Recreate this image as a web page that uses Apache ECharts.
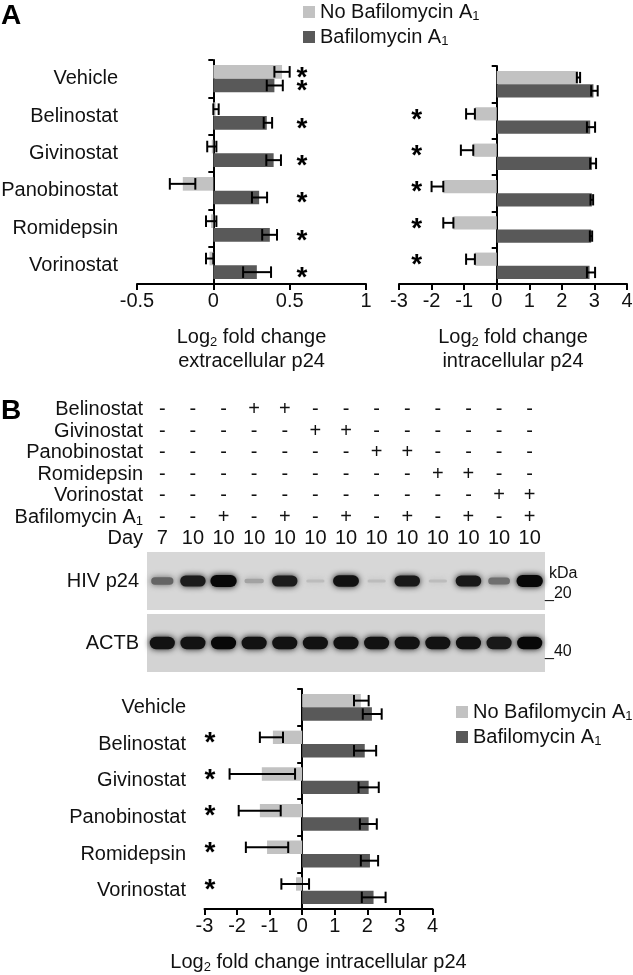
<!DOCTYPE html>
<html><head><meta charset="utf-8">
<script src="https://cdn.jsdelivr.net/npm/echarts@6/dist/echarts.min.js"></script>
<style>html,body{margin:0;padding:0;background:#fff}#c{width:633px;height:975px}</style>
</head><body><div id="c"></div>
<script>
// ---------- data ----------
const categories = ['Vehicle','Belinostat','Givinostat','Panobinostat','Romidepsin','Vorinostat'];
const seriesNames = ['No Bafilomycin A1','Bafilomycin A1'];

// Panel A, left: log2 fold change extracellular p24
const extraTicks = [-0.5, 0, 0.5, 1];
const extraNo    = [0.45, 0.015, -0.01, -0.20, -0.015, -0.025];
const extraNoLo  = [0.40, 0.0,  -0.04, -0.285, -0.048, -0.048];
const extraNoHi  = [0.50, 0.035, 0.02, -0.118, 0.02, 0.0];
const extraBaf   = [0.40, 0.35, 0.395, 0.30, 0.37, 0.285];
const extraBafLo = [0.35, 0.33, 0.347, 0.253, 0.32, 0.195];
const extraBafHi = [0.455, 0.385, 0.443, 0.352, 0.417, 0.378];
const extraSigNo  = [1,0,0,0,0,0];
const extraSigBaf = [1,1,1,1,1,1];
const extraStarX = 0.58;

// Panel A, right: log2 fold change intracellular p24
const intraTicks = [-3,-2,-1,0,1,2,3,4];
const intraANo    = [2.50, -0.67, -0.72, -1.64, -1.33, -0.67];
const intraANoLo  = [2.46, -0.94, -1.10, -2.00, -1.64, -0.94];
const intraANoHi  = [2.56, -0.67, -0.72, -1.64, -1.33, -0.67];
const intraABaf   = [2.97, 2.87, 2.92, 2.92, 2.90, 2.85];
const intraABafLo = [2.90, 2.77, 2.87, 2.88, 2.86, 2.77];
const intraABafHi = [3.10, 3.02, 3.05, 2.96, 2.93, 3.02];
const intraASigNo  = [0,1,1,1,1,1];
const intraASigBaf = [0,0,0,0,0,0];
const intraAStarX = -2.46;

// Panel B: log2 fold change intracellular p24
const intraBNo    = [1.80, -0.90, -1.24, -1.30, -1.08, -0.19];
const intraBNoLo  = [1.59, -1.30, -2.23, -1.95, -1.73, -0.64];
const intraBNoHi  = [2.04, -0.59, -0.22, -0.66, -0.43, 0.21];
const intraBBaf   = [2.14, 1.92, 2.04, 2.04, 2.08, 2.19];
const intraBBafLo = [1.86, 1.59, 1.73, 1.77, 1.80, 1.83];
const intraBBafHi = [2.44, 2.27, 2.35, 2.29, 2.33, 2.56];
const intraBSigNo  = [0,1,1,1,1,1];
const intraBSigBaf = [0,0,0,0,0,0];
const intraBStarX = -2.83;

// Panel B: treatment table & blot
const lanes = ['1','2','3','4','5','6','7','8','9','10','11','12','13'];
const tableRows = ['Belinostat','Givinostat','Panobinostat','Romidepsin','Vorinostat','Bafilomycin A1','Day'];
const belinostatRow   = ['-','-','-','+','+','-','-','-','-','-','-','-','-'];
const givinostatRow   = ['-','-','-','-','-','+','+','-','-','-','-','-','-'];
const panobinostatRow = ['-','-','-','-','-','-','-','+','+','-','-','-','-'];
const romidepsinRow   = ['-','-','-','-','-','-','-','-','-','+','+','-','-'];
const vorinostatRow   = ['-','-','-','-','-','-','-','-','-','-','-','+','+'];
const bafilomycinRow  = ['-','-','+','-','+','-','+','-','+','-','+','-','+'];
const dayRow          = ['7','10','10','10','10','10','10','10','10','10','10','10','10'];
const p24Intensity  = [0.55, 0.9, 1.0, 0.25, 0.9, 0.12, 0.95, 0.12, 0.92, 0.12, 0.92, 0.5, 1.0];
const actbIntensity = [0.95, 0.95, 1.0, 0.95, 0.95, 0.95, 0.95, 0.95, 0.95, 0.95, 0.95, 0.92, 1.0];

// ---------- styling ----------
const FONT = '"Liberation Sans", Arial, Helvetica, sans-serif';
const INK = '#111';
const LIGHT = '#c2c2c2', DARK = '#595959';
const subRich = { sub: { fontSize: 13, fontFamily: FONT, color: INK, verticalAlign: 'bottom', padding: [9, 0, 0, 0] } };
const withSub = s => s.replace(/A1$/, 'A{sub|1}');

const chart = echarts.init(document.getElementById('c'), null, { renderer: 'canvas' });

const grids = [
  { left: 137, width: 229, top: 60, height: 224 },   // A left
  { left: 399, width: 228, top: 66, height: 218 },   // A right
  { left: 204.5, width: 228, top: 689, height: 220 },// B chart
  { left: 147, width: 398, top: 399, height: 150.5 },// table
  { left: 147, width: 398, top: 552, height: 58, show: true, backgroundColor: '#d7d7d7', borderWidth: 0 }, // p24 blot
  { left: 147, width: 398, top: 614, height: 58, show: true, backgroundColor: '#d3d3d3', borderWidth: 0 }  // ACTB blot
].map(g => Object.assign({ containLabel: false, outerBoundsMode: 'none' }, g));

const axisLine = { show: true, onZero: false, lineStyle: { color: '#000', width: 2 } };
const axisTick = { show: true, length: 6, lineStyle: { color: '#000', width: 2 } };
const nameStyle = { fontSize: 20, fontFamily: FONT, color: INK, lineHeight: 24, rich: subRich };

function valueAxis(gi, ticks, name, nameGap) {
  return {
    type: 'value', gridIndex: gi, min: ticks[0], max: ticks[ticks.length - 1], interval: ticks[1] - ticks[0],
    axisLine, axisTick, splitLine: { show: false },
    axisLabel: { color: INK, fontSize: 20, fontFamily: FONT, margin: 7, formatter: v => String(v) },
    name, nameLocation: 'middle', nameGap, nameTextStyle: nameStyle
  };
}
function catAxis(gi, showLabels, margin) {
  return {
    type: 'category', gridIndex: gi, data: categories, inverse: true,
    axisLine: { show: true, onZero: true, lineStyle: { color: '#000', width: 2 } },
    axisTick: { show: true, length: 5, lineStyle: { color: '#000', width: 2 } },
    axisLabel: { show: showLabels, interval: 0, margin, color: INK, fontSize: 20, fontFamily: FONT },
    splitLine: { show: false }
  };
}

const OFF = 0.1825; // bar centre offset in band widths (barCategoryGap 27%, barGap 0)
function errRender(sign) {
  return (params, api) => {
    const y = api.value(2);
    const a = api.coord([api.value(0), y]);
    const b = api.coord([api.value(1), y]);
    const band = api.size([0, 1])[1];
    const yc = a[1] + sign * band * OFF;
    const h = band * 0.155;
    const style = { stroke: '#000', lineWidth: 2, fill: null };
    return { type: 'group', children: [
      { type: 'line', shape: { x1: a[0], y1: yc, x2: b[0], y2: yc }, style },
      { type: 'line', shape: { x1: a[0], y1: yc - h, x2: a[0], y2: yc + h }, style },
      { type: 'line', shape: { x1: b[0], y1: yc - h, x2: b[0], y2: yc + h }, style }
    ]};
  };
}
function starRender(sign) {
  return (params, api) => {
    const c = api.coord([api.value(0), api.value(1)]);
    const band = api.size([0, 1])[1];
    return { type: 'text', x: c[0], y: c[1] + sign * band * OFF + 6,
      style: { text: '*', fontSize: 28, fontWeight: 'bold', fontFamily: FONT, fill: '#000',
               textAlign: 'center', textVerticalAlign: 'middle', align: 'center', verticalAlign: 'middle' } };
  };
}

function panelSeries(gi, no, noLo, noHi, baf, bafLo, bafHi, sigNo, sigBaf, starX) {
  const out = [];
  out.push({ type: 'bar', name: seriesNames[0], xAxisIndex: gi, yAxisIndex: gi, data: no,
    barGap: '0%', barCategoryGap: '27%', itemStyle: { color: LIGHT }, silent: true });
  out.push({ type: 'bar', name: seriesNames[1], xAxisIndex: gi, yAxisIndex: gi, data: baf,
    barGap: '0%', barCategoryGap: '27%', itemStyle: { color: DARK }, silent: true });
  out.push({ type: 'custom', xAxisIndex: gi, yAxisIndex: gi, z: 5, silent: true,
    data: noLo.map((l, i) => [l, noHi[i], i]), encode: { x: [0, 1], y: 2 }, renderItem: errRender(-1) });
  out.push({ type: 'custom', xAxisIndex: gi, yAxisIndex: gi, z: 5, silent: true,
    data: bafLo.map((l, i) => [l, bafHi[i], i]), encode: { x: [0, 1], y: 2 }, renderItem: errRender(1) });
  const sNo = [], sBaf = [];
  sigNo.forEach((s, i) => { if (s) sNo.push([starX, i]); });
  sigBaf.forEach((s, i) => { if (s) sBaf.push([starX, i]); });
  if (sNo.length) out.push({ type: 'custom', xAxisIndex: gi, yAxisIndex: gi, z: 6, silent: true,
    data: sNo, encode: { x: 0, y: 1 }, renderItem: starRender(-1) });
  if (sBaf.length) out.push({ type: 'custom', xAxisIndex: gi, yAxisIndex: gi, z: 6, silent: true,
    data: sBaf, encode: { x: 0, y: 1 }, renderItem: starRender(1) });
  return out;
}

// table cells
const tableData = [belinostatRow, givinostatRow, panobinostatRow, romidepsinRow, vorinostatRow, bafilomycinRow, dayRow];
const tableCells = [], tableText = [];
tableData.forEach((row, r) => row.forEach((t, c) => { tableCells.push([c, r]); tableText.push(t); }));

function bandRender(kind) {
  return (params, api) => {
    const c = api.coord([api.value(0), api.value(1)]);
    const bw = api.size([1, 0])[0];
    const t = api.value(2);
    const g = Math.round(205 * (1 - t) + 8);
    const col = 'rgb(' + g + ',' + g + ',' + g + ')';
    const rx = kind === 'p24' ? bw * (0.28 + 0.15 * t) : bw * 0.41;
    const ry = kind === 'p24' ? 1.0 + 5.0 * t : 6.2;
    return { type: 'rect', shape: { x: c[0] - rx, y: c[1] - ry, width: 2 * rx, height: 2 * ry, r: ry },
      style: { fill: col, shadowBlur: 6, shadowColor: col } };
  };
}

const hidden = { show: false };
const option = {
  animation: false,
  backgroundColor: '#fff',
  textStyle: { fontFamily: FONT },
  grid: grids,
  legend: [
    { left: 303, top: 1, orient: 'vertical', padding: 0, itemWidth: 12, itemHeight: 12, itemGap: 3,
      icon: 'rect', data: seriesNames, selectedMode: false, formatter: withSub,
      textStyle: { fontSize: 20, fontFamily: FONT, color: INK, lineHeight: 22, rich: subRich } },
    { left: 456, top: 701, orient: 'vertical', padding: 0, itemWidth: 12, itemHeight: 12, itemGap: 3,
      icon: 'rect', data: seriesNames, selectedMode: false, formatter: withSub,
      textStyle: { fontSize: 20, fontFamily: FONT, color: INK, lineHeight: 22, rich: subRich } }
  ],
  xAxis: [
    valueAxis(0, extraTicks, 'Log{sub|2} fold change\nextracellular p24', 41),
    valueAxis(1, intraTicks, 'Log{sub|2} fold change\nintracellular p24', 41),
    valueAxis(2, intraTicks, 'Log{sub|2} fold change intracellular p24', 41),
    { type: 'category', gridIndex: 3, data: lanes, show: false },
    { type: 'category', gridIndex: 4, data: lanes, show: false },
    { type: 'category', gridIndex: 5, data: lanes, show: false }
  ],
  yAxis: [
    catAxis(0, true, 19),
    catAxis(1, false, 8),
    catAxis(2, true, 18.5),
    { type: 'category', gridIndex: 3, data: tableRows, inverse: true,
      axisLine: hidden, axisTick: hidden, splitLine: hidden,
      axisLabel: { interval: 0, margin: 4, color: INK, fontSize: 20, fontFamily: FONT, formatter: withSub, rich: subRich } },
    { type: 'category', gridIndex: 4, data: ['HIV p24'], axisLine: hidden, axisTick: hidden, splitLine: hidden,
      axisLabel: { margin: 8, color: INK, fontSize: 20, fontFamily: FONT } },
    { type: 'category', gridIndex: 5, data: ['ACTB'], axisLine: hidden, axisTick: hidden, splitLine: hidden,
      axisLabel: { margin: 8, color: INK, fontSize: 20, fontFamily: FONT } }
  ],
  series: [].concat(
    panelSeries(0, extraNo, extraNoLo, extraNoHi, extraBaf, extraBafLo, extraBafHi, extraSigNo, extraSigBaf, extraStarX),
    panelSeries(1, intraANo, intraANoLo, intraANoHi, intraABaf, intraABafLo, intraABafHi, intraASigNo, intraASigBaf, intraAStarX),
    panelSeries(2, intraBNo, intraBNoLo, intraBNoHi, intraBBaf, intraBBafLo, intraBBafHi, intraBSigNo, intraBSigBaf, intraBStarX),
    [{ type: 'custom', xAxisIndex: 3, yAxisIndex: 3, silent: true, data: tableCells, encode: { x: 0, y: 1 },
       renderItem: (params, api) => {
         const c = api.coord([api.value(0), api.value(1)]);
         return { type: 'text', x: c[0], y: c[1],
           style: { text: tableText[params.dataIndex], fontSize: 20, fontFamily: FONT, fill: INK,
                    textAlign: 'center', textVerticalAlign: 'middle', align: 'center', verticalAlign: 'middle' } };
       } },
     { type: 'custom', xAxisIndex: 4, yAxisIndex: 4, silent: true,
       data: p24Intensity.map((v, i) => [i, 0, v]), encode: { x: 0, y: 1 }, renderItem: bandRender('p24') },
     { type: 'custom', xAxisIndex: 5, yAxisIndex: 5, silent: true,
       data: actbIntensity.map((v, i) => [i, 0, v]), encode: { x: 0, y: 1 }, renderItem: bandRender('actb') }]
  ),
  graphic: [
    { type: 'text', left: 1, top: 2, style: { text: 'A', font: 'bold 28px ' + FONT, fill: '#000' } },
    { type: 'text', left: 1, top: 397, style: { text: 'B', font: 'bold 28px ' + FONT, fill: '#000' } },
    { type: 'text', left: 549, top: 566, style: { text: 'kDa', font: '16px ' + FONT, fill: INK } },
    { type: 'text', left: 545, top: 586, style: { text: '_20', font: '16px ' + FONT, fill: INK } },
    { type: 'text', left: 545, top: 644, style: { text: '_40', font: '16px ' + FONT, fill: INK } }
  ]
};
chart.setOption(option);
</script>
</body></html>
